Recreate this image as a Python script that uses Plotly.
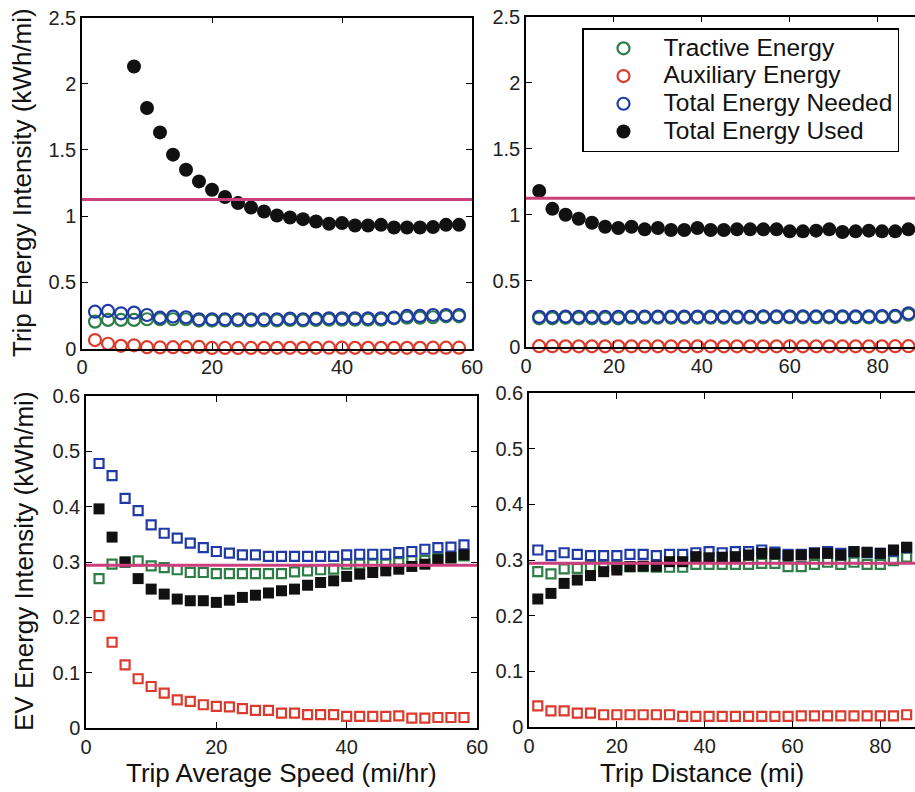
import plotly.graph_objects as go

# ---------------- data ----------------
# Top-left: trip energy intensity vs trip average speed
speed = [2, 4, 6, 8, 10, 12, 14, 16, 18, 20, 22, 24, 26, 28, 30, 32, 34, 36, 38, 40,
         42, 44, 46, 48, 50, 52, 54, 56, 58]
speed_used = [8, 10, 12, 14, 16, 18, 20, 22, 24, 26, 28, 30, 32, 34, 36, 38, 40, 42,
              44, 46, 48, 50, 52, 54, 56, 58]
tl_tractive = [0.203, 0.216, 0.216, 0.216, 0.221, 0.221, 0.221, 0.221, 0.211, 0.211,
               0.212, 0.212, 0.212, 0.212, 0.212, 0.216, 0.212, 0.216, 0.218, 0.218,
               0.218, 0.218, 0.218, 0.228, 0.233, 0.233, 0.236, 0.243, 0.243]
tl_aux = [0.064, 0.036, 0.020, 0.024, 0.010, 0.008, 0.010, 0.010, 0.012, 0.004,
          0.004, 0.004, 0.004, 0.005, 0.005, 0.005, 0.005, 0.005, 0.006, 0.006,
          0.005, 0.005, 0.005, 0.005, 0.005, 0.005, 0.006, 0.006, 0.006]
tl_needed = [0.278, 0.284, 0.266, 0.271, 0.253, 0.233, 0.241, 0.236, 0.221, 0.221,
             0.221, 0.221, 0.221, 0.221, 0.221, 0.226, 0.221, 0.226, 0.228, 0.228,
             0.228, 0.228, 0.228, 0.233, 0.246, 0.246, 0.253, 0.253, 0.253]
tl_used = [2.13, 1.817, 1.632, 1.464, 1.35, 1.262, 1.199, 1.144, 1.098, 1.065, 1.035,
           1.005, 0.989, 0.977, 0.959, 0.942, 0.947, 0.929, 0.929, 0.934, 0.914, 0.914,
           0.914, 0.917, 0.934, 0.934]

# Top-right: trip energy intensity vs trip distance
dist_top = [3, 6, 9, 12, 15, 18, 21, 24, 27, 30, 33, 36, 39, 42, 45, 48, 51, 54, 57, 60,
            63, 66, 69, 72, 75, 78, 81, 84, 87]
tr_tractive = [0.217, 0.217, 0.222, 0.217, 0.217, 0.217, 0.217, 0.222, 0.222, 0.222,
               0.222, 0.222, 0.222, 0.222, 0.222, 0.222, 0.222, 0.224, 0.224, 0.224,
               0.224, 0.224, 0.224, 0.224, 0.224, 0.224, 0.226, 0.228, 0.245]
tr_aux = [0.006, 0.006, 0.005, 0.005, 0.005, 0.005, 0.005, 0.005, 0.005, 0.005,
          0.005, 0.005, 0.005, 0.005, 0.005, 0.005, 0.005, 0.005, 0.005, 0.005,
          0.005, 0.005, 0.005, 0.005, 0.005, 0.005, 0.005, 0.006, 0.006]
tr_needed = [0.228, 0.228, 0.230, 0.228, 0.228, 0.228, 0.228, 0.230, 0.230, 0.230,
             0.230, 0.230, 0.230, 0.230, 0.230, 0.230, 0.230, 0.232, 0.232, 0.232,
             0.232, 0.232, 0.232, 0.232, 0.232, 0.232, 0.234, 0.236, 0.255]
tr_used = [1.18, 1.045, 1.0, 0.97, 0.94, 0.91, 0.90, 0.91, 0.89, 0.90, 0.885, 0.885,
           0.90, 0.885, 0.885, 0.89, 0.89, 0.89, 0.89, 0.875, 0.875, 0.88, 0.89, 0.87,
           0.875, 0.88, 0.875, 0.875, 0.89]

# Bottom-left: EV energy intensity vs trip average speed
bl_tractive = [0.270, 0.296, 0.300, 0.302, 0.293, 0.290, 0.286, 0.281, 0.281, 0.279,
               0.279, 0.279, 0.279, 0.279, 0.279, 0.282, 0.284, 0.286, 0.287, 0.296,
               0.296, 0.296, 0.296, 0.299, 0.302, 0.303, 0.306, 0.307, 0.311]
bl_aux = [0.203, 0.155, 0.114, 0.089, 0.075, 0.063, 0.051, 0.048, 0.042, 0.039,
          0.038, 0.035, 0.032, 0.032, 0.027, 0.027, 0.024, 0.024, 0.024, 0.021,
          0.021, 0.021, 0.021, 0.022, 0.018, 0.018, 0.019, 0.019, 0.019]
bl_needed = [0.478, 0.456, 0.415, 0.393, 0.367, 0.352, 0.343, 0.334, 0.326, 0.319,
             0.316, 0.313, 0.313, 0.310, 0.310, 0.310, 0.310, 0.310, 0.310, 0.313,
             0.314, 0.314, 0.314, 0.317, 0.319, 0.323, 0.326, 0.327, 0.331]
bl_used = [0.396, 0.345, 0.300, 0.270, 0.251, 0.242, 0.233, 0.230, 0.230, 0.227,
           0.231, 0.236, 0.240, 0.244, 0.248, 0.251, 0.258, 0.263, 0.266, 0.274,
           0.278, 0.281, 0.284, 0.287, 0.292, 0.296, 0.304, 0.308, 0.313]

# Bottom-right: EV energy intensity vs trip distance
dist_bot = [2, 5, 8, 11, 14, 17, 20, 23, 26, 29, 32, 35, 38, 41, 44, 47, 50, 53, 56, 59,
            62, 65, 68, 71, 74, 77, 80, 83, 86]
br_tractive = [0.279, 0.275, 0.284, 0.285, 0.288, 0.289, 0.289, 0.288, 0.288, 0.287,
               0.287, 0.287, 0.292, 0.292, 0.292, 0.292, 0.292, 0.294, 0.294, 0.288,
               0.288, 0.292, 0.296, 0.292, 0.296, 0.292, 0.292, 0.299, 0.305]
br_aux = [0.038, 0.029, 0.029, 0.025, 0.025, 0.022, 0.022, 0.022, 0.022, 0.022,
          0.022, 0.019, 0.019, 0.019, 0.019, 0.019, 0.019, 0.019, 0.019, 0.019,
          0.020, 0.020, 0.020, 0.020, 0.020, 0.020, 0.020, 0.020, 0.022]
br_needed = [0.318, 0.308, 0.313, 0.310, 0.308, 0.308, 0.308, 0.310, 0.310, 0.308,
             0.310, 0.310, 0.313, 0.315, 0.313, 0.315, 0.315, 0.318, 0.314, 0.310,
             0.310, 0.313, 0.315, 0.312, 0.315, 0.313, 0.312, 0.316, 0.322]
br_used = [0.230, 0.240, 0.258, 0.264, 0.272, 0.279, 0.282, 0.288, 0.289, 0.289,
           0.297, 0.297, 0.306, 0.304, 0.305, 0.306, 0.309, 0.312, 0.311, 0.308,
           0.309, 0.312, 0.312, 0.309, 0.315, 0.314, 0.312, 0.318, 0.323]

ref_trip = 1.125   # reference line, top panels
ref_ev = 0.294     # reference line, bottom panels

series_names = ["Tractive Energy", "Auxiliary Energy", "Total Energy Needed", "Total Energy Used"]
x_titles = ["Trip Average Speed (mi/hr)", "Trip Distance (mi)"]
y_titles = ["Trip Energy Intensity (kWh/mi)", "EV Energy Intensity (kWh/mi)"]

# ---------------- styling ----------------
GREEN = "#2f7d46"
RED = "#dc3a2c"
BLUE = "#1f3aa6"
BLACK = "#111111"
PINK = "#cc3f7c"
FONT = "Liberation Sans, Arial, Helvetica, sans-serif"
colors = [GREEN, RED, BLUE, BLACK]

fig = go.Figure()

def legend_label(name):
    return f"<span style='font-size:24.5px'>{name}</span>"

def add_panel(xs, xs_used, ys, xa, ya, shape, show_legend):
    open_sym = "circle-open" if shape == "circle" else "square-open"
    fill_sym = "circle" if shape == "circle" else "square"
    osize = 12 if shape == "circle" else 9
    fsize = 14 if shape == "circle" else 11
    for i in range(3):
        fig.add_trace(go.Scatter(
            x=xs, y=ys[i], mode="markers", name=legend_label(series_names[i]),
            marker=dict(symbol=open_sym, size=osize, color=colors[i],
                        line=dict(width=2.2, color=colors[i])),
            xaxis=xa, yaxis=ya, showlegend=show_legend, cliponaxis=False))
    fig.add_trace(go.Scatter(
        x=xs_used, y=ys[3], mode="markers", name=legend_label(series_names[3]),
        marker=dict(symbol=fill_sym, size=fsize, color=BLACK,
                    line=dict(width=0)),
        xaxis=xa, yaxis=ya, showlegend=show_legend, cliponaxis=False))

add_panel(speed, speed_used, [tl_tractive, tl_aux, tl_needed, tl_used], "x", "y", "circle", True)
add_panel(dist_top, dist_top, [tr_tractive, tr_aux, tr_needed, tr_used], "x2", "y2", "circle", False)
add_panel(speed, speed, [bl_tractive, bl_aux, bl_needed, bl_used], "x3", "y3", "square", False)
add_panel(dist_bot, dist_bot, [br_tractive, br_aux, br_needed, br_used], "x4", "y4", "square", False)

W, H = 915, 792

def px_dom(a, b, total):
    return [a / total, b / total]

def ydom(top_px, bot_px):
    return [1 - bot_px / H, 1 - top_px / H]

common = dict(showline=True, linecolor="black", linewidth=1.5, ticks="inside",
              ticklen=6, tickwidth=1.2, tickcolor="black", showgrid=False,
              zeroline=False, automargin=False,
              tickfont=dict(family=FONT, size=20, color="#222222"))

fig.update_layout(
    width=W, height=H,
    autosize=False,
    margin=dict(l=0, r=0, t=0, b=0, pad=0, autoexpand=False),
    paper_bgcolor="white", plot_bgcolor="white",
    font=dict(family=FONT, color="#111111"),
    xaxis=dict(domain=px_dom(82, 472, W), range=[0, 60], tickvals=[0, 20, 40, 60],
               anchor="y", mirror="ticks", **common),
    yaxis=dict(domain=ydom(17.5, 348.5), range=[0, 2.5],
               tickvals=[0, 0.5, 1, 1.5, 2, 2.5], anchor="x", mirror="ticks", **common),
    xaxis2=dict(domain=px_dom(526, 915, W), range=[0, 88.5], tickvals=[0, 20, 40, 60, 80],
                anchor="y2", mirror="ticks", **common),
    yaxis2=dict(domain=ydom(16.5, 347), range=[0, 2.5],
                tickvals=[0, 0.5, 1, 1.5, 2, 2.5], anchor="x2", mirror=False, **common),
    xaxis3=dict(domain=px_dom(86, 477, W), range=[0, 60], tickvals=[0, 20, 40, 60],
                anchor="y3", mirror="ticks", **common),
    yaxis3=dict(domain=ydom(396, 728), range=[0, 0.6],
                tickvals=[0, 0.1, 0.2, 0.3, 0.4, 0.5, 0.6], anchor="x3", mirror="ticks", **common),
    xaxis4=dict(domain=px_dom(529, 915, W), range=[0, 87.9], tickvals=[0, 20, 40, 60, 80],
                anchor="y4", mirror="ticks", **common),
    yaxis4=dict(domain=ydom(393, 727), range=[0, 0.6],
                tickvals=[0, 0.1, 0.2, 0.3, 0.4, 0.5, 0.6], anchor="x4", mirror=False, **common),
    legend=dict(x=582 / W, y=1 - 28 / H, xanchor="left", yanchor="top",
                bgcolor="white", bordercolor="black", borderwidth=1.5,
                font=dict(family=FONT, size=19, color="#111111"),
                itemwidth=70, tracegroupgap=0),
    showlegend=True,
)

# reference lines
for xa, ya, val in [("x", "y", ref_trip), ("x2", "y2", ref_trip),
                    ("x3", "y3", ref_ev), ("x4", "y4", ref_ev)]:
    fig.add_shape(type="line", xref=f"{xa} domain", yref=ya, x0=0, x1=1, y0=val, y1=val,
                  line=dict(color=PINK, width=3), layer="above")

# axis titles
fig.add_annotation(text=y_titles[0], xref="paper", yref="paper", x=22 / W, y=1 - 183 / H,
                   textangle=-90, showarrow=False, xanchor="center", yanchor="middle",
                   font=dict(family=FONT, size=26, color="#111111"))
fig.add_annotation(text=y_titles[1], xref="paper", yref="paper", x=24 / W, y=1 - 561 / H,
                   textangle=-90, showarrow=False, xanchor="center", yanchor="middle",
                   font=dict(family=FONT, size=26, color="#111111"))
fig.add_annotation(text=x_titles[0], xref="paper", yref="paper", x=281 / W, y=1 - 773 / H,
                   showarrow=False, xanchor="center", yanchor="middle",
                   font=dict(family=FONT, size=26, color="#111111"))
fig.add_annotation(text=x_titles[1], xref="paper", yref="paper", x=702 / W, y=1 - 773 / H,
                   showarrow=False, xanchor="center", yanchor="middle",
                   font=dict(family=FONT, size=26, color="#111111"))

fig.write_html(
    "out.html",
    config={"displayModeBar": False},
    post_script="document.body.style.margin='0px';document.body.style.padding='0px';"
                "document.body.style.overflow='hidden';",
)
